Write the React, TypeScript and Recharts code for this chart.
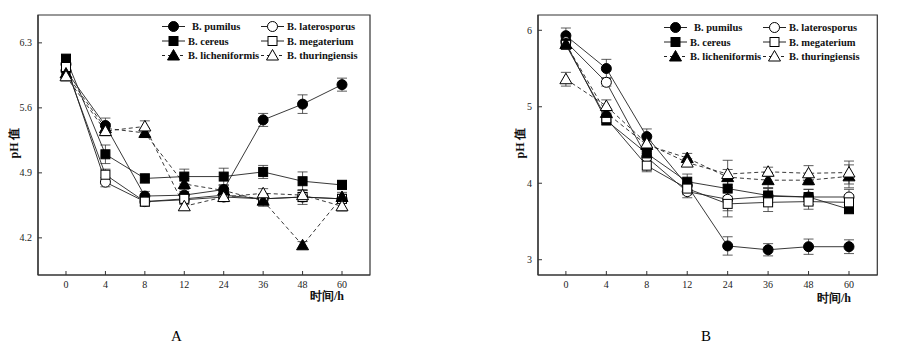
import { LineChart, Line, XAxis, YAxis, ErrorBar, ReferenceArea, Legend } from "recharts";

const TIMES = ["0", "4", "8", "12", "24", "36", "48", "60"];

// panel A (pH)
const A_PUMILUS = [6.0, 5.41, 4.65, 4.66, 4.72, 5.47, 5.64, 5.85];
const A_PUMILUS_ERR = [0.04, 0.08, 0.05, 0.04, 0.05, 0.07, 0.1, 0.07];
const A_LATERO = [6.07, 4.8, 4.59, 4.61, 4.64, 4.62, 4.64, 4.62];
const A_LATERO_ERR = [0.04, 0.05, 0.04, 0.05, 0.04, 0.04, 0.08, 0.05];
const A_CEREUS = [6.13, 5.1, 4.84, 4.86, 4.86, 4.91, 4.81, 4.77];
const A_CEREUS_ERR = [0.04, 0.1, 0.05, 0.08, 0.09, 0.07, 0.1, 0.05];
const A_MEGA = [6.04, 4.88, 4.59, 4.62, 4.66, 4.62, 4.64, 4.62];
const A_MEGA_ERR = [0.04, 0.06, 0.05, 0.04, 0.04, 0.04, 0.05, 0.04];
const A_LICHEN = [5.97, 5.38, 5.33, 4.78, 4.71, 4.6, 4.12, 4.64];
const A_LICHEN_ERR = [0.04, 0.05, 0.05, 0.06, 0.05, 0.06, 0.04, 0.05];
const A_THURING = [5.94, 5.35, 5.4, 4.54, 4.64, 4.68, 4.66, 4.54];
const A_THURING_ERR = [0.05, 0.05, 0.06, 0.04, 0.05, 0.05, 0.05, 0.05];

// panel B (pH)
const B_PUMILUS = [5.93, 5.5, 4.61, 3.97, 3.18, 3.13, 3.17, 3.17];
const B_PUMILUS_ERR = [0.1, 0.12, 0.1, 0.05, 0.12, 0.08, 0.1, 0.09];
const B_LATERO = [5.85, 5.32, 4.34, 3.89, 3.79, 3.83, 3.82, 3.82];
const B_LATERO_ERR = [0.05, 0.05, 0.05, 0.08, 0.15, 0.1, 0.1, 0.1];
const B_CEREUS = [5.83, 4.82, 4.39, 4.02, 3.93, 3.84, 3.82, 3.66];
const B_CEREUS_ERR = [0.05, 0.05, 0.06, 0.1, 0.1, 0.1, 0.1, 0.05];
const B_MEGA = [5.81, 4.85, 4.23, 3.93, 3.73, 3.75, 3.76, 3.75];
const B_MEGA_ERR = [0.05, 0.05, 0.08, 0.08, 0.17, 0.12, 0.1, 0.1];
const B_LICHEN = [5.82, 4.92, 4.5, 4.33, 4.08, 4.04, 4.04, 4.09];
const B_LICHEN_ERR = [0.05, 0.05, 0.05, 0.06, 0.1, 0.1, 0.06, 0.15];
const B_THURING = [5.36, 5.01, 4.52, 4.27, 4.12, 4.15, 4.13, 4.14];
const B_THURING_ERR = [0.09, 0.08, 0.1, 0.05, 0.18, 0.06, 0.1, 0.15];

const A_TICKS = [4.2, 4.9, 5.6, 6.3];
const B_TICKS = [3, 4, 5, 6];

const SERIES = [
  { key: "pumilus", name: "B. pumilus", marker: "circle", filled: true, dashed: false },
  { key: "latero", name: "B. laterosporus", marker: "circle", filled: false, dashed: false },
  { key: "cereus", name: "B. cereus", marker: "square", filled: true, dashed: false },
  { key: "mega", name: "B. megaterium", marker: "square", filled: false, dashed: false },
  { key: "lichen", name: "B. licheniformis", marker: "triangle", filled: true, dashed: true },
  { key: "thuring", name: "B. thuringiensis", marker: "triangle", filled: false, dashed: true },
];

const INK = "#222";
const FONT = "'Liberation Serif', 'Times New Roman', serif";

function buildRows(cols: Record<string, number[]>) {
  return TIMES.map((_, i) => {
    const row: Record<string, number> = { i };
    Object.keys(cols).forEach((k) => (row[k] = cols[k][i]));
    return row;
  });
}

const rowsA = buildRows({
  pumilus: A_PUMILUS, pumilusErr: A_PUMILUS_ERR,
  latero: A_LATERO, lateroErr: A_LATERO_ERR,
  cereus: A_CEREUS, cereusErr: A_CEREUS_ERR,
  mega: A_MEGA, megaErr: A_MEGA_ERR,
  lichen: A_LICHEN, lichenErr: A_LICHEN_ERR,
  thuring: A_THURING, thuringErr: A_THURING_ERR,
});

const rowsB = buildRows({
  pumilus: B_PUMILUS, pumilusErr: B_PUMILUS_ERR,
  latero: B_LATERO, lateroErr: B_LATERO_ERR,
  cereus: B_CEREUS, cereusErr: B_CEREUS_ERR,
  mega: B_MEGA, megaErr: B_MEGA_ERR,
  lichen: B_LICHEN, lichenErr: B_LICHEN_ERR,
  thuring: B_THURING, thuringErr: B_THURING_ERR,
});

function Marker({ cx, cy, marker, filled }: { cx: number; cy: number; marker: string; filled: boolean }) {
  const fill = filled ? "#000" : "#fff";
  if (marker === "circle") return <circle cx={cx} cy={cy} r={5} fill={fill} stroke="#000" strokeWidth={1} />;
  if (marker === "square")
    return <rect x={cx - 4.5} y={cy - 4.5} width={9} height={9} fill={fill} stroke="#000" strokeWidth={1} />;
  return (
    <polygon
      points={`${cx},${cy - 6} ${cx - 6},${cy + 4.5} ${cx + 6},${cy + 4.5}`}
      fill={fill}
      stroke="#000"
      strokeWidth={1}
    />
  );
}

function LegendBox() {
  const rowY = [7.5, 22, 36.5];
  return (
    <svg width={230} height={46} style={{ overflow: "visible" }}>
      {SERIES.map((s, idx) => {
        const row = Math.floor(idx / 2);
        const col = idx % 2;
        const x0 = col === 0 ? 4 : 103;
        const y = rowY[row];
        const textX = col === 0 ? (idx === 0 ? 34 : 30) : 129;
        return (
          <g key={s.key}>
            <line
              x1={x0}
              x2={x0 + 23}
              y1={y}
              y2={y}
              stroke={INK}
              strokeWidth={1}
              strokeDasharray={s.dashed ? "3 3" : undefined}
            />
            <Marker cx={x0 + 11.5} cy={y} marker={s.marker} filled={s.filled} />
            <text x={textX} y={y + 3.7} fontSize={10.5} fontWeight="bold" fontFamily={FONT} fill="#111">
              {s.name}
            </text>
          </g>
        );
      })}
    </svg>
  );
}

function Panel({
  rows,
  yDomain,
  yTicks,
  xDomain,
  width,
  marginLeft,
  marginRight,
  legendPos,
}: {
  rows: Record<string, number>[];
  yDomain: [number, number];
  yTicks: number[];
  xDomain: [number, number];
  width: number;
  marginLeft: number;
  marginRight: number;
  legendPos: { left: number; top: number };
}) {
  const tickStyle = { fontSize: 10, fontFamily: FONT, fill: "#222" };
  return (
    <LineChart
      width={width}
      height={305}
      data={rows}
      margin={{ top: 15, right: marginRight, bottom: 0, left: marginLeft }}
    >
      <XAxis
        type="number"
        dataKey="i"
        domain={xDomain}
        ticks={[0, 1, 2, 3, 4, 5, 6, 7]}
        tickFormatter={(v: number) => TIMES[v]}
        allowDataOverflow
        height={30}
        tickSize={-4}
        tickMargin={10}
        tick={tickStyle}
        axisLine={{ stroke: "#333", strokeWidth: 1.2 }}
        tickLine={{ stroke: "#333" }}
      />
      <YAxis
        type="number"
        domain={yDomain}
        ticks={yTicks}
        allowDataOverflow
        width={30}
        tickSize={-4}
        tickMargin={10}
        tick={tickStyle}
        axisLine={{ stroke: "#333", strokeWidth: 1.2 }}
        tickLine={{ stroke: "#333" }}
      />
      <ReferenceArea
        x1={xDomain[0]}
        x2={xDomain[1]}
        y1={yDomain[0]}
        y2={yDomain[1]}
        fill="none"
        stroke="#333"
        strokeWidth={1.2}
        fillOpacity={0}
      />
      {SERIES.map((s) => (
        <Line
          key={s.key}
          dataKey={s.key}
          name={s.name}
          stroke={INK}
          strokeWidth={0.9}
          strokeDasharray={s.dashed ? "4 3" : undefined}
          isAnimationActive={false}
          dot={(p: any) => (
            <g key={`${s.key}-${p.index}`}>
              <Marker cx={p.cx} cy={p.cy} marker={s.marker} filled={s.filled} />
            </g>
          )}
          activeDot={false}
        >
          <ErrorBar dataKey={`${s.key}Err`} width={5} stroke="#333" strokeWidth={0.8} direction="y" />
        </Line>
      ))}
      <Legend
        layout="horizontal"
        verticalAlign="middle"
        align="center"
        wrapperStyle={{ left: legendPos.left, top: legendPos.top, width: 230, height: 46 }}
        content={() => <LegendBox />}
      />
    </LineChart>
  );
}

const abs = (style: React.CSSProperties): React.CSSProperties => ({ position: "absolute", ...style });

export default function App() {
  const titleStyle: React.CSSProperties = {
    fontFamily: FONT,
    fontWeight: "bold",
    fontSize: 12,
    whiteSpace: "nowrap",
    color: "#111",
  };
  return (
    <div style={abs({ left: 0, top: 0, width: 899, height: 354, background: "#fff", fontFamily: FONT })}>
      <div style={abs({ left: 0, top: 0 })}>
        <Panel
          rows={rowsA}
          yDomain={[3.8, 6.6]}
          yTicks={A_TICKS}
          xDomain={[-0.71, 7.71]}
          width={380}
          marginLeft={8}
          marginRight={10}
          legendPos={{ left: 158, top: 19 }}
        />
      </div>
      <div style={abs({ left: 450, top: 0 })}>
        <Panel
          rows={rowsB}
          yDomain={[2.8, 6.2]}
          yTicks={B_TICKS}
          xDomain={[-0.69, 7.7]}
          width={440}
          marginLeft={58}
          marginRight={12.7}
          legendPos={{ left: 210, top: 20 }}
        />
      </div>
      <div style={abs({ ...titleStyle, left: 14, top: 143, transform: "translate(-50%, -50%) rotate(-90deg)" })}>
        pH 值
      </div>
      <div style={abs({ ...titleStyle, left: 520, top: 143, transform: "translate(-50%, -50%) rotate(-90deg)" })}>
        pH 值
      </div>
      <div style={abs({ ...titleStyle, left: 310, top: 288 })}>时间/h</div>
      <div style={abs({ ...titleStyle, left: 817, top: 290 })}>时间/h</div>
      <div style={abs({ fontFamily: FONT, fontSize: 15, left: 171, top: 328 })}>A</div>
      <div style={abs({ fontFamily: FONT, fontSize: 15, left: 701, top: 328 })}>B</div>
    </div>
  );
}
